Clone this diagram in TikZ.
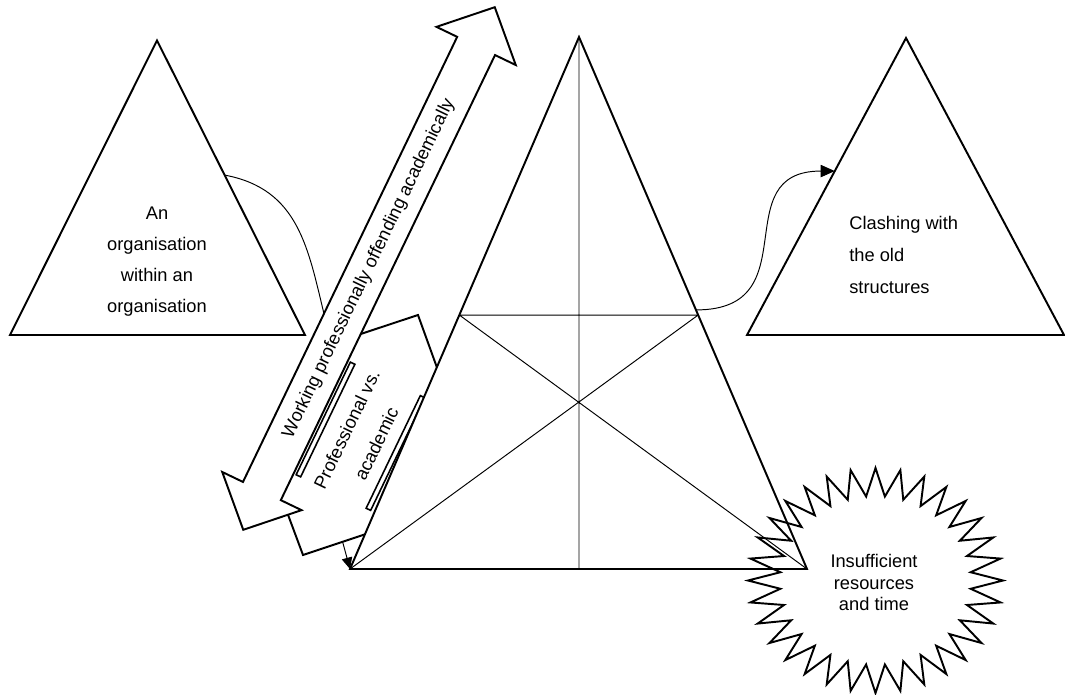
\documentclass[tikz,border=0pt]{standalone}
\usepackage{fontspec}
\setmainfont{Liberation Sans}
\usetikzlibrary{calc,arrows.meta}

\begin{document}
\begin{tikzpicture}[x=0.02cm,y=-0.02cm,
  thick edge/.style={line width=1.1pt,line join=miter},
  thin edge/.style={line width=0.55pt},
  link/.style={line width=0.55pt,-{Triangle[length=8pt,width=7pt]}},
  txt/.style={inner sep=0pt,align=center,font=\fontsize{10.4}{17.6}\selectfont}]
  \useasboundingbox (0,0) rectangle (1065,694);

  \coordinate (Mtop) at (579,37);
  \coordinate (Mleft) at (350,569);
  \coordinate (Mright) at (807,569);
  \coordinate (Ltop) at (157,40.5);
  \coordinate (Lleft) at (10,335);
  \coordinate (Lright) at (305,335);
  \coordinate (Rtop) at (906,38);
  \coordinate (Rleft) at (747,335);
  \coordinate (Rright) at (1064,335);

  % box behind the double arrow
  \coordinate (Pa) at (418,315);
  \coordinate (Pb) at (483,495);
  \coordinate (Pc) at (303,555);
  \draw[thick edge,fill=white] (Pa) -- (Pb) -- (Pc) -- (285.5,508) -- (262,470) -- (335,342.5) -- cycle;

  % link from the left triangle
  \coordinate (Lc) at ($(Ltop)!0.457!(Lright)$);
  \coordinate (Le) at (325,318);
  \draw[thin edge] (Lc) .. controls (299,189) and (308,248) .. (Le);

  % double arrow
  \begin{scope}[shift={(369,268.5)},rotate=64.3]
    \draw[thick edge,fill=white] (290,0) -- (247,-44) -- (247,-21) -- (-247,-21) -- (-247,-44)
      -- (-290,0) -- (-247,44) -- (-247,21) -- (247,21) -- (247,44) -- cycle;
  \end{scope}
  \node[txt,rotate=64.3] (wpoa) at (369,268.5) {Working professionally offending academically};

  \draw[thick edge,line width=0.9pt,fill=white,shift={(325.5,419.5)},rotate=64.3] (-62.5,-2.5) rectangle (62.5,2.5);
  \draw[thick edge,line width=0.9pt,fill=white,shift={(395.5,453)},rotate=64.3] (-62.5,-2.5) rectangle (62.5,2.5);
  \node[txt,rotate=64.3,font=\fontsize{10.4}{18.7}\selectfont] (profacad) at (361.5,436.5) {Professional vs.\\academic};

  % main triangle
  \draw[thick edge,fill=white] (Mtop) -- (Mleft) -- (Mright) -- cycle;
  \coordinate (Hl) at ($(Mtop)!0.5226!(Mleft)$);
  \coordinate (Hr) at ($(Mtop)!0.5226!(Mright)$);
  \draw[thin edge] (Hl) -- (Hr) (Mtop) -- (Mtop |- Mleft) (Hl) -- (Mright) (Hr) -- (Mleft);

  \coordinate (Pd) at ($(Pc)!0.22!(Pb)$);
  \draw[link,-{Triangle[length=6.5pt,width=6pt]}] (Pd) -- (Mleft);

  % side triangles
  \draw[thick edge,fill=white] (Ltop) -- (Lleft) -- (Lright) -- cycle;
  \node[txt] (orgtext) at (157,261.7) {An\\organisation\\within an\\organisation};
  \draw[thick edge,fill=white] (Rtop) -- (Rleft) -- (Rright) -- cycle;
  \node[txt,align=left,anchor=west,font=\fontsize{10.4}{18.4}\selectfont] (clashtext) at (849,255) {Clashing with\\the old\\structures};

  \coordinate (Ms) at ($(Mtop)!0.513!(Mright)$);
  \coordinate (Re) at ($(Rtop)!0.448!(Rleft)$);
  \draw[link] (Ms) .. controls (810,310) and (724,171) .. (Re);

  % starburst
  \draw[thick edge] (875.5,468) \foreach \i in {1,...,63}{
    -- ({875.5+127.5*(1-0.25*mod(\i,2))*cos(90+5.625*\i)},{580.5-112.5*(1-0.25*mod(\i,2))*sin(90+5.625*\i)})
  } -- cycle;
  \node[txt,font=\fontsize{10.4}{12.3}\selectfont] (burst) at (874,582.7) {Insufficient\\resources\\and time};
\end{tikzpicture}
\end{document}
